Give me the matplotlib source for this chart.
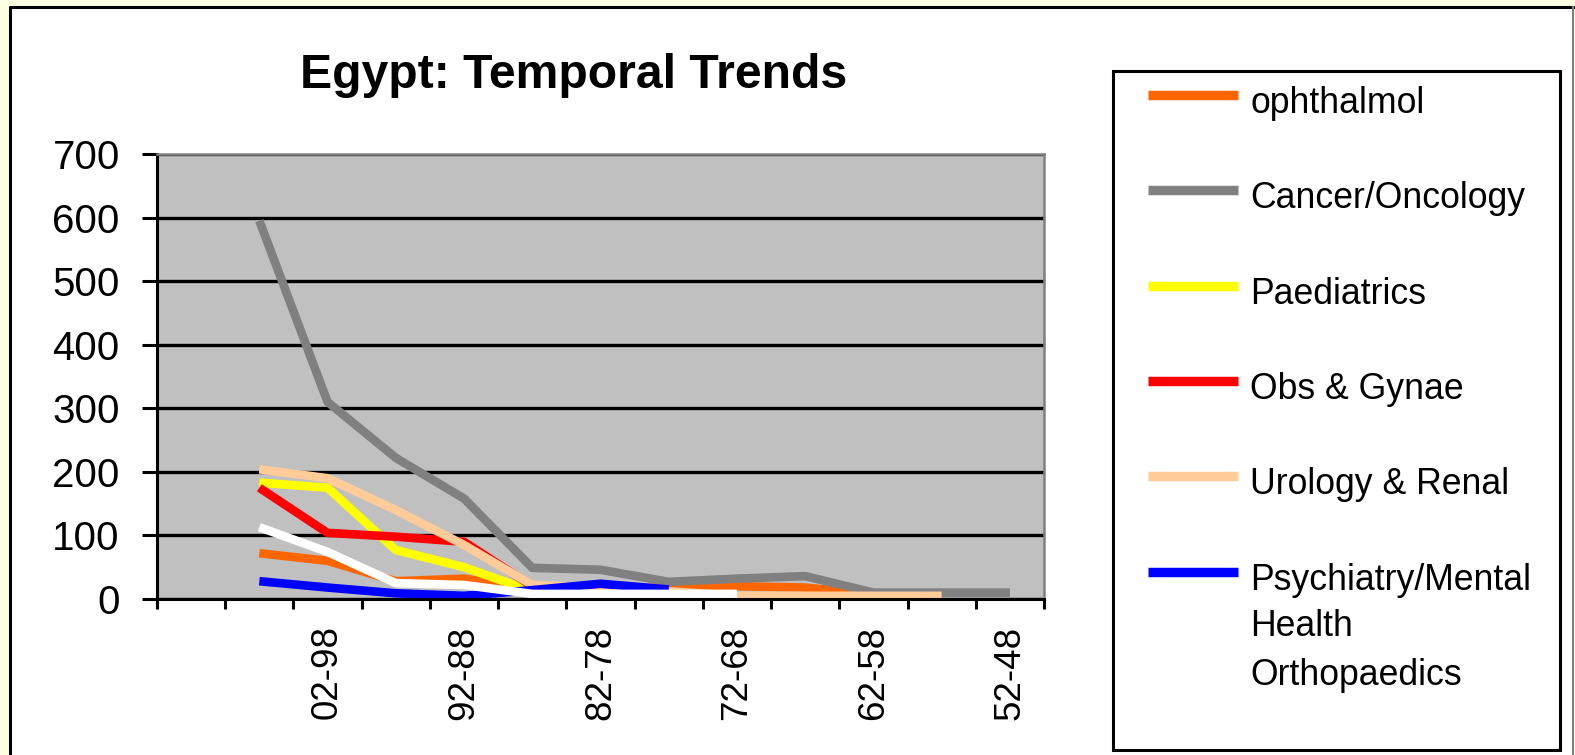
import numpy as np
import matplotlib.pyplot as plt
from matplotlib.patches import Rectangle
from matplotlib.lines import Line2D

plt.rcParams['font.family'] = ['Liberation Sans', 'DejaVu Sans']

W, H = 1575, 755

# categories (every other label is shown on the axis)
periods = ['', '07-03', '02-98', '97-93', '92-88', '87-83', '82-78',
           '77-73', '72-68', '67-63', '62-58', '57-53', '52-48']

nan = np.nan
ophthalmol = [nan, 72, 60, 28, 32, 17, 17, 18, 20, 18, 7, nan, nan]
cancer = [nan, 595, 310, 222, 158, 49, 46, 27, 32, 36, 10, 10, 10]
paediatrics = [nan, 183, 175, 77, 50, 12, nan, nan, nan, nan, nan, nan, nan]
obs_gynae = [nan, 175, 104, 98, 90, 20, 15, nan, nan, nan, nan, nan, nan]
urology = [nan, 204, 190, 140, 85, 22, 18, 12, 5, 5, 5, 5, nan]
psychiatry = [nan, 28, 18, 9, 5, 14, 24, 15, nan, nan, nan, nan, nan]
orthopaedics = [nan, 113, 74, 25, 22, 8, 8, 8, 8, nan, nan, nan, nan]

series = [
    ('ophthalmol', ophthalmol, '#FF6600'),
    ('Cancer/Oncology', cancer, '#808080'),
    ('Paediatrics', paediatrics, '#FFFF00'),
    ('Obs & Gynae', obs_gynae, '#FF0000'),
    ('Urology & Renal', urology, '#FFCC99'),
    ('Psychiatry/Mental\nHealth', psychiatry, '#0000FF'),
    ('Orthopaedics', orthopaedics, '#FFFFFF'),
]


def fx(x):
    return x / W


def fy(y):
    return 1 - y / H


fig = plt.figure(figsize=(W / 100, H / 100), dpi=100, facecolor='#FFFFE1')

# white chart area with border
fig.add_artist(Rectangle((fx(10), -0.05), fx(1573) - fx(10), fy(7) + 0.05,
                         transform=fig.transFigure, facecolor='white',
                         edgecolor='none', zorder=-2))
fig.add_artist(Line2D([fx(10), fx(10), fx(1573)], [-0.05, fy(7), fy(7)],
                      transform=fig.transFigure, color='black', lw=2.2, zorder=-1))
fig.add_artist(Line2D([fx(1573), fx(1573)], [fy(7), -0.05],
                      transform=fig.transFigure, color='#808080', lw=1.5, zorder=-1))

ax = fig.add_axes([fx(157), fy(599), fx(1044) - fx(157), (599 - 154) / H])
ax.set_facecolor('#C0C0C0')
ax.set_axisbelow(True)

x = np.arange(len(periods))
for name, vals, col in series:
    ax.plot(x, vals, color=col, lw=6.2, solid_capstyle='butt')

ax.set_xlim(-0.5, len(periods) - 0.5)
ax.set_ylim(0, 700)
ax.set_yticks(range(0, 701, 100))
ax.yaxis.grid(True, color='black', lw=2.4)

ax.set_xticks(x[::2])
ax.set_xticklabels(periods[::2], rotation=90, fontsize=26.5)
ax.set_xticks(np.arange(-0.5, len(periods), 1), minor=True)
ax.tick_params(axis='x', which='major', length=0, pad=19)
ax.tick_params(axis='x', which='minor', length=7.2, width=2.2, color='black')
ax.tick_params(axis='y', length=10.8, width=2.2, pad=16, labelsize=29)

for side in ['left', 'bottom']:
    ax.spines[side].set_color('black')
    ax.spines[side].set_linewidth(2.2)
for side in ['top', 'right']:
    ax.spines[side].set_color('#808080')
    ax.spines[side].set_linewidth(1.8)

fig.text(fx(574), fy(88), 'Egypt: Temporal Trends', ha='center', va='baseline',
         fontsize=34.7, fontweight='bold')

# legend box drawn by hand
fig.add_artist(Rectangle((fx(1113), fy(750)), fx(1560) - fx(1113), fy(71) - fy(750),
                         transform=fig.transFigure, facecolor='white',
                         edgecolor='black', lw=2.2))
for i, (name, vals, col) in enumerate(series):
    yc = 95 + i * 95.3
    fig.add_artist(Line2D([fx(1148), fx(1238)], [fy(yc), fy(yc)],
                          transform=fig.transFigure, color=col, lw=6.8,
                          solid_capstyle='butt'))
    for k, part in enumerate(name.split('\n')):
        fig.text(fx(1250), fy(yc + 18 + k * 46), part, ha='left', va='baseline',
                 fontsize=25.7)

fig.savefig('out.png', dpi=100, facecolor=fig.get_facecolor())
